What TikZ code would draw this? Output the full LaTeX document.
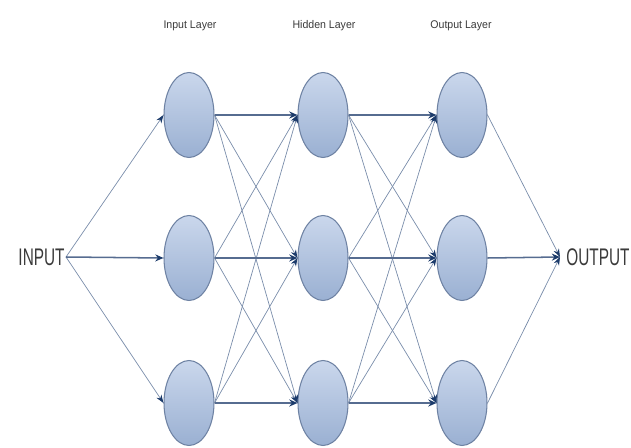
\documentclass[tikz,border=0pt]{standalone}
\usepackage{fontspec}
\setmainfont{Liberation Sans}
\newfontfamily\bigfont[FakeStretch=0.64]{Liberation Sans}
\newfontfamily\lblfont[FakeStretch=0.95]{Liberation Sans}
\usetikzlibrary{shapes.geometric,arrows.meta}
\definecolor{nodetop}{HTML}{CAD7EC}
\definecolor{nodebot}{HTML}{9AB0D2}
\definecolor{nodeline}{HTML}{6E82A3}
\definecolor{wire}{HTML}{7A8DAB}
\definecolor{mainwire}{HTML}{566C90}
\definecolor{tipblue}{HTML}{1C3B6B}
\definecolor{txtgray}{HTML}{3A3A3A}
\tikzset{
  neuron/.style={ellipse,draw=nodeline,line width=0.9pt,top color=nodetop,bottom color=nodebot,
    minimum width=1.5cm,minimum height=2.55cm,inner sep=0pt},
  layerlbl/.style={font=\lblfont\fontsize{9.5}{10}\selectfont,text=txtgray},
  biglbl/.style={font=\bigfont\fontsize{20.5}{22}\selectfont,text=txtgray,inner sep=1pt},
  wirethin/.style={draw=wire,line width=0.6pt,-{Stealth[length=7pt,width=5pt,color=tipblue]}},
  wiremain/.style={draw=mainwire,line width=1.3pt,-{Stealth[length=7pt,width=6pt,color=tipblue]}}
}
\begin{document}
\begin{tikzpicture}[x=0.03cm,y=-0.03cm]
      \useasboundingbox (0,0) rectangle (631,448);
      \draw
        (189,115) node[neuron] (i1){}
        (189,258) node[neuron] (i2){}
        (189,403) node[neuron] (i3){}
        (323,115) node[neuron] (h1){}
        (323,258) node[neuron] (h2){}
        (323,403) node[neuron] (h3){}
        (462,115) node[neuron] (o1){}
        (462,258) node[neuron] (o2){}
        (462,403) node[neuron] (o3){};
      \node[layerlbl] (li) at (190,26) {Input Layer};
      \node[layerlbl] (lh) at (324,26) {Hidden Layer};
      \node[layerlbl] (lo) at (461,26) {Output Layer};
      \coordinate (in) at (66,257);
      \coordinate (out) at (560,257);
      \node[biglbl,anchor=east] (intext) at (in) {INPUT};
      \node[biglbl,anchor=west] (outtext) at (565,257) {OUTPUT};
      % input to first layer
      \begin{scope}[wirethin]
        \draw (in) to (i1.west);
        \draw (in) to (i3.west);
      \end{scope}
      \draw[wiremain] (in) to (i2.west);
      % first layer to hidden layer
      \begin{scope}[wirethin]
        \draw (i1.east) to (h2.west);
        \draw (i1.east) to (h3.west);
        \draw (i2.east) to (h1.west);
        \draw (i2.east) to (h3.west);
        \draw (i3.east) to (h1.west);
        \draw (i3.east) to (h2.west);
      \end{scope}
      \begin{scope}[wiremain]
        \draw (i1.east) to (h1.west);
        \draw (i2.east) to (h2.west);
        \draw (i3.east) to (h3.west);
      \end{scope}
      % hidden layer to output layer
      \begin{scope}[wirethin]
        \draw (h1.east) to (o2.west);
        \draw (h1.east) to (o3.west);
        \draw (h2.east) to (o1.west);
        \draw (h2.east) to (o3.west);
        \draw (h3.east) to (o1.west);
        \draw (h3.east) to (o2.west);
      \end{scope}
      \begin{scope}[wiremain]
        \draw (h1.east) to (o1.west);
        \draw (h2.east) to (o2.west);
        \draw (h3.east) to (o3.west);
      \end{scope}
      % output layer to output
      \begin{scope}[wirethin]
        \draw (o1.east) to (out);
        \draw (o3.east) to (out);
      \end{scope}
      \draw[wiremain] (o2.east) to (out);
    \end{tikzpicture}
\end{document}
